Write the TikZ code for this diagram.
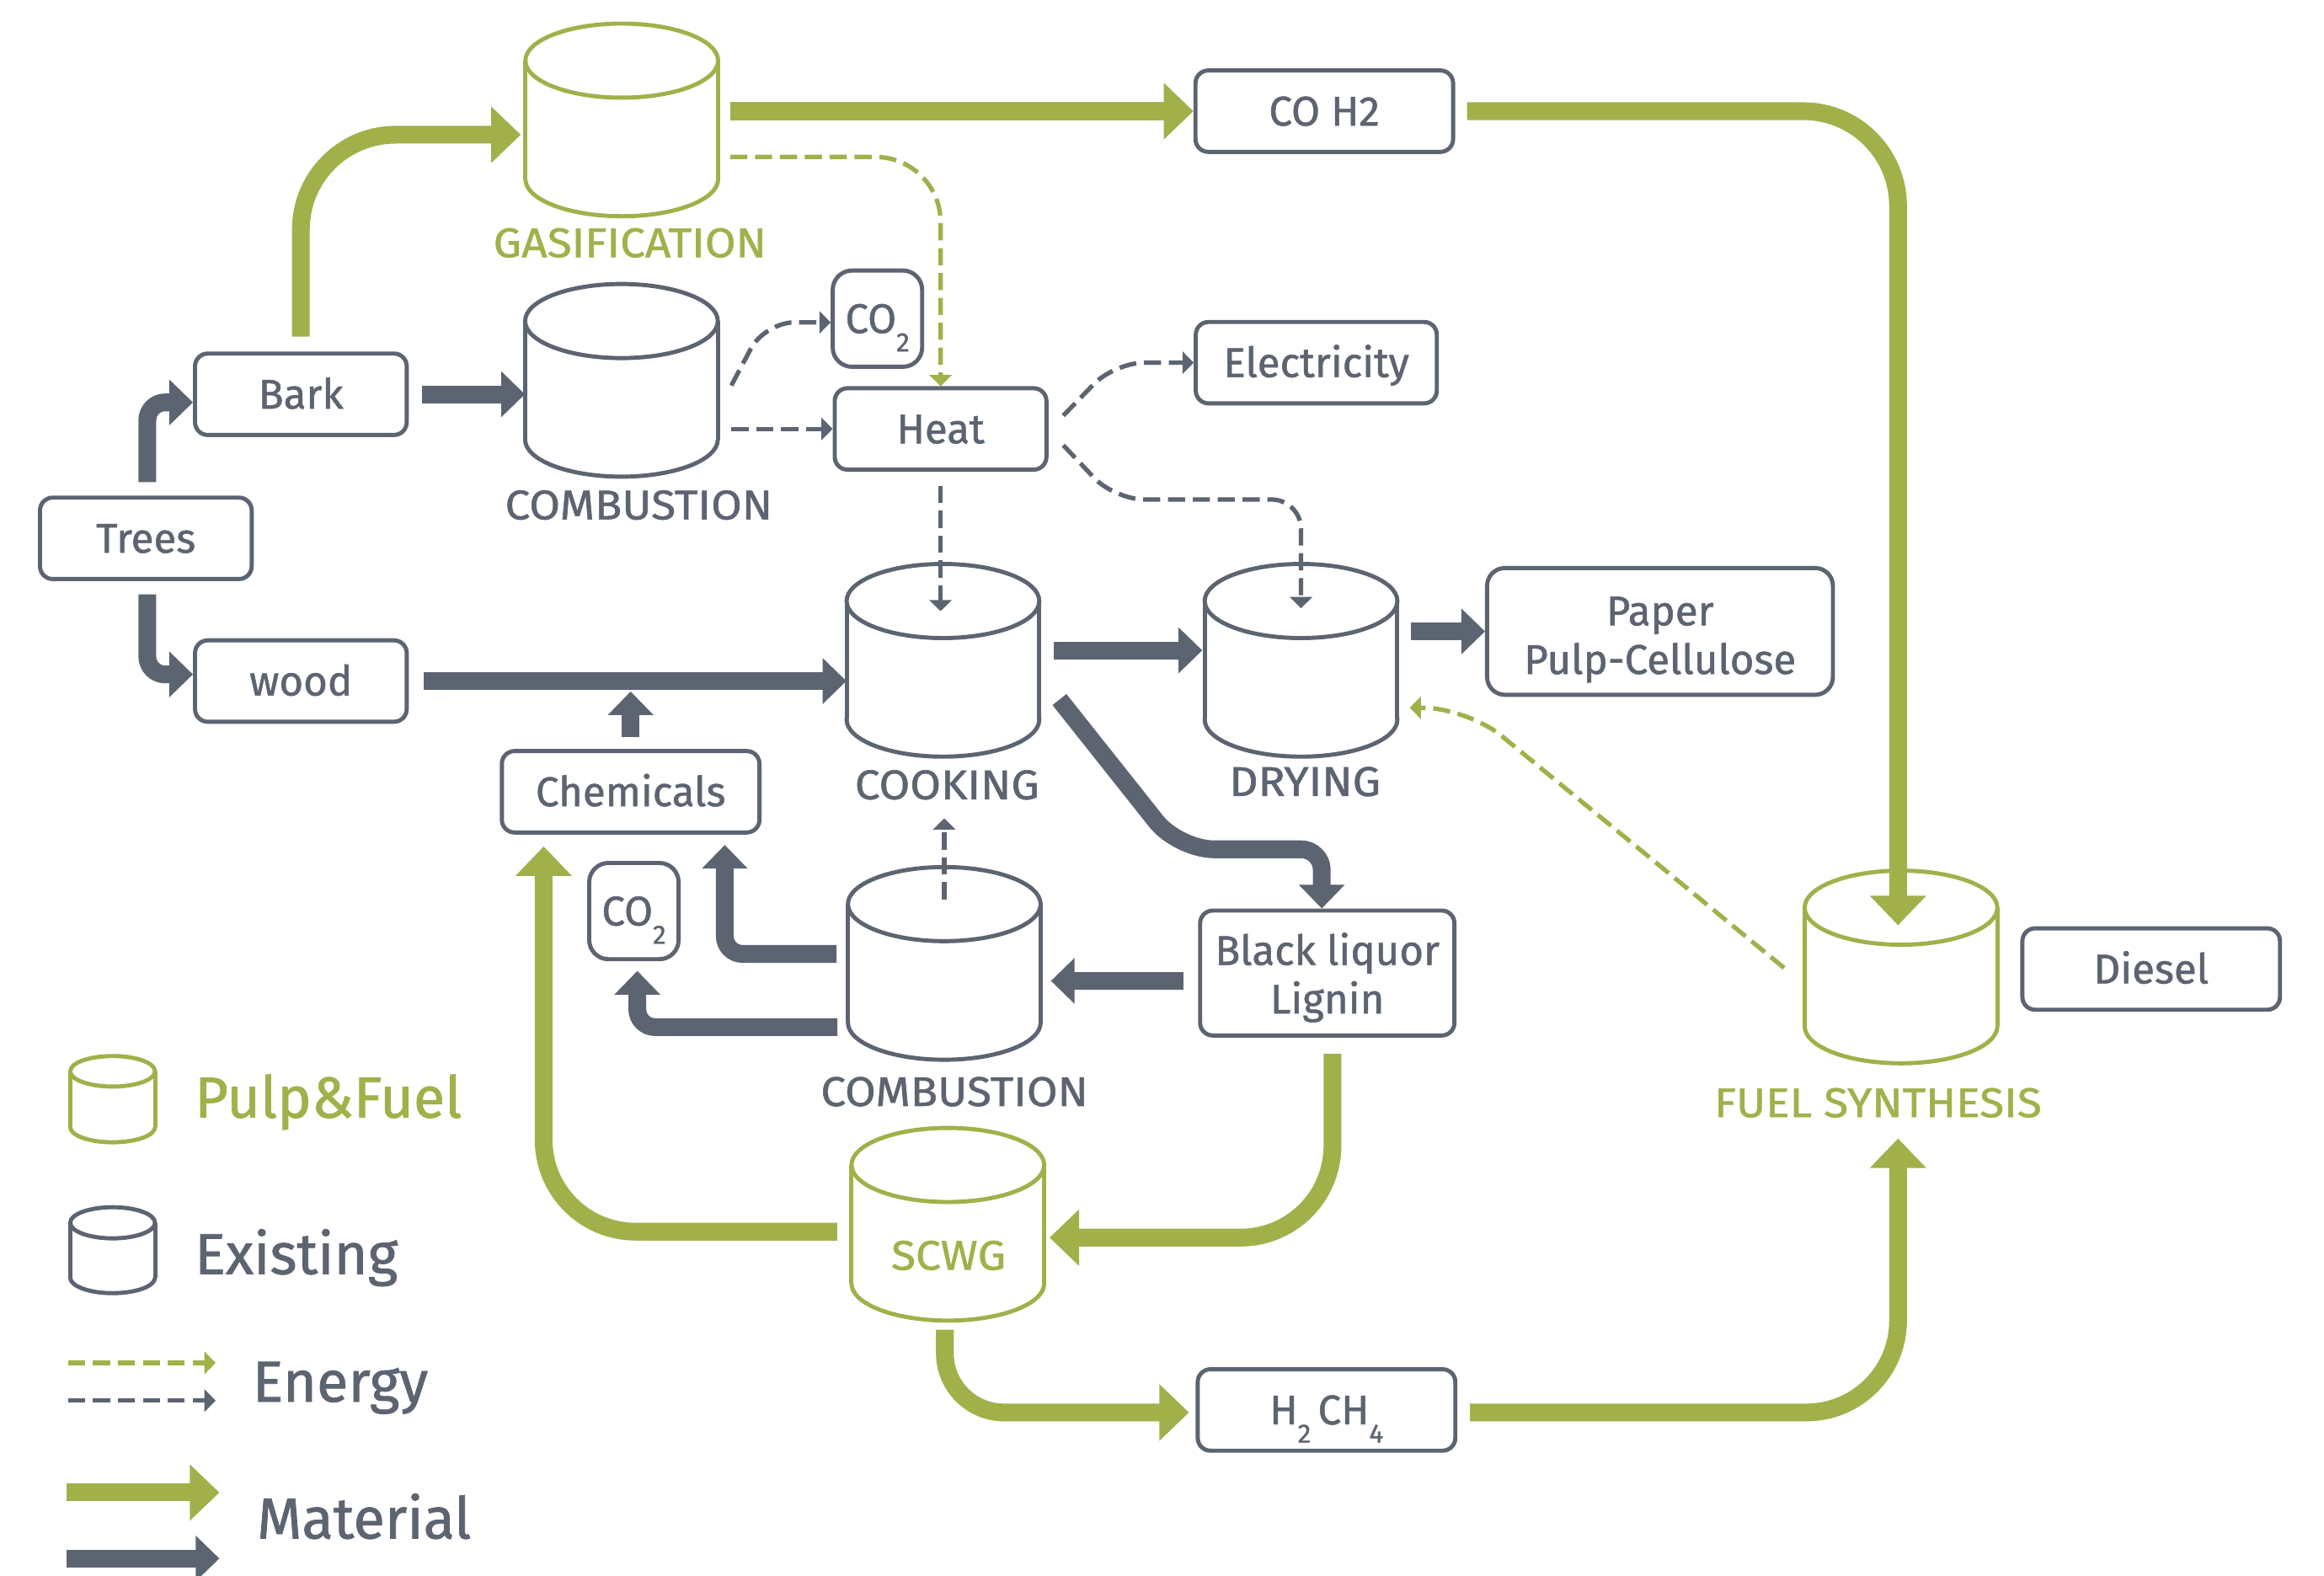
\documentclass[tikz,border=0pt]{standalone}
\usepackage{fontspec}
\setmainfont{Fira Sans}[FakeBold=1.1]
\newfontfamily\labfont{Fira Sans}[FakeStretch=1.08, FakeBold=1.1]
\usetikzlibrary{arrows.meta,calc}
\definecolor{cgray}{RGB}{93,100,113}
\definecolor{cgreen}{RGB}{162,176,74}
\newcommand\lowsub[1]{\raisebox{-6.2pt}[0pt][0pt]{\fontsize{9}{9}\selectfont #1}}
% cx, ytop, rx, ry, h, colour
\newcommand\drawcyl[6]{%
  \draw[#6, line width=1.4pt, fill=white] (#1,{#2+#5}) ellipse [x radius=#3, y radius=#4];
  \fill[white] ({#1-#3},#2) rectangle ({#1+#3},{#2+#5});
  \draw[#6, line width=1.4pt] ({#1-#3},#2) -- ({#1-#3},{#2+#5}) ({#1+#3},#2) -- ({#1+#3},{#2+#5});
  \draw[#6, line width=1.4pt, fill=white] (#1,#2) ellipse [x radius=#3, y radius=#4];
}
\begin{document}
\begin{tikzpicture}[x=0.017596cm, y=-0.017596cm,
  basebox/.style={draw=cgray, line width=1.4pt, rounded corners=4.3pt, fill=white, text=cgray,
    font=\fontsize{14}{16.4}\selectfont, inner sep=0pt, minimum height=27.5pt, align=center},
  box/.style={basebox, text height=9.7pt, text depth=0pt},
  twobox/.style={basebox, text depth=0pt},
  sbox/.style={box, minimum width=71.5pt},
  lbox/.style={box, minimum width=87pt},
  cobox/.style={box, minimum width=30.2pt, minimum height=32.5pt, rounded corners=6.5pt},
  cylnode/.style={inner sep=0pt, minimum width=64.8pt, minimum height=64.8pt},
  lab/.style={font=\labfont\fontsize{14}{16}\selectfont, inner sep=0pt, text height=9.7pt, text depth=0pt},
  leg/.style={font=\fontsize{19.5}{22}\selectfont, inner sep=0pt, text=cgray},
  gmat/.style={draw=cgreen, line width=6pt, -{Triangle[length=10pt 0 0,width=18.5pt 0 0]}},
  ymat/.style={draw=cgray, line width=6pt, -{Triangle[length=8pt 0 0,width=15pt 0 0]}},
  gen/.style={draw=cgreen, line width=1.5pt, dash pattern=on 5.8pt off 2.6pt, -{Triangle[length=3.8pt 0 0,width=7.5pt 0 0]}},
  yen/.style={draw=cgray, line width=1.5pt, dash pattern=on 5.8pt off 2.6pt, -{Triangle[length=3.8pt 0 0,width=7.5pt 0 0]}}
]
\fill[white] (0,0) rectangle (1568,1063);
\useasboundingbox (0,0) rectangle (1568,1063);

% ---- cylinders ----
\drawcyl{419.5}{40.9}{65}{25}{80}{cgreen}
\drawcyl{419.3}{216.6}{65}{25}{80}{cgray}
\drawcyl{636.2}{405.5}{65}{25}{80}{cgray}
\drawcyl{877.8}{405.5}{65}{25}{80}{cgray}
\drawcyl{637.1}{610}{65}{25}{80}{cgray}
\drawcyl{639.5}{786}{65}{25}{80}{cgreen}
\drawcyl{1282.6}{612.4}{65}{25}{80}{cgreen}
\node[cylnode] (gas) at (419.5,80.9) {};
\node[cylnode] (combT) at (419.3,256.6) {};
\node[cylnode] (cook) at (636.2,445.5) {};
\node[cylnode] (dry) at (877.8,445.5) {};
\node[cylnode] (combB) at (637.1,650) {};
\node[cylnode] (scwg) at (639.5,826) {};
\node[cylnode] (fuel) at (1282.6,652.4) {};

% ---- cylinder labels ----
\node[lab, text=cgreen] (gasl) at (425,163.8) {GASIFICATION};
\node[lab, text=cgray] (combTl) at (431,340.7) {COMBUSTION};
\node[lab, text=cgray] (cookl) at (639,529.5) {COOKING};
\node[lab, text=cgray] (dryl) at (880.5,527.3) {DRYING};
\node[lab, text=cgray] (combBl) at (644,736.5) {COMBUSTION};
\node[lab, text=cgreen] (scwgl) at (640,847) {SCWG};
\node[lab, text=cgreen] (fuell) at (1267,744) {FUEL SYNTHESIS};

% ---- boxes ----
\node[sbox] (trees) at (98.4,363.2) {Trees};
\node[sbox] (bark) at (203,266) {Bark};
\node[sbox] (wood) at (203,459.5) {wood};
\node[lbox] (chem) at (425.5,534.2) {Chemicals};
\node[cobox] (co2a) at (592,215) {CO\lowsub{2}};
\node[sbox] (heat) at (634.6,289.4) {Heat};
\node[box, minimum width=81.4pt] (elec) at (888.1,244.7) {Electricity};
\node[lbox] (coh2) at (893.5,75) {CO H2};
\node[twobox, minimum width=116.8pt, minimum height=42.8pt, rounded corners=6pt] (paper) at (1120,426) {\rule{0pt}{12.3pt}Paper\\Pulp-Cellulose};
\node[twobox, minimum width=85.9pt, minimum height=42.2pt] (bl) at (895.5,656.5) {Black liquor\\Lignin};
\node[cobox] (co2b) at (427.7,614.7) {CO\lowsub{2}};
\node[lbox] (diesel) at (1451.4,653.8) {Diesel};
\node[lbox] (h2) at (895,951.3) {H\lowsub{2}\,CH\lowsub{4}};

% ---- material flows ----
\draw[ymat, rounded corners=6pt] ($(trees.north)+(1,-9)$) |- ($(bark.west)+(0,5.5)$);
\draw[ymat, rounded corners=6pt] ($(trees.south)+(1,9)$) |- ($(wood.west)+(0,-4.5)$);
\draw[gmat, rounded corners=32pt] ($(bark.north)+(0,-10)$) |- ($(gas.west)+(-3,10)$);
\draw[ymat, shorten <=4.5pt] (bark.east) -- (combT.west |- bark.east);
\draw[gmat, shorten <=4pt] (gas.east |- coh2.west) -- (coh2.west);
\draw[gmat, rounded corners=32pt] ($(coh2.east)+(8,0)$) -| ($(fuel.north)+(-2,37)$);
\draw[ymat, shorten <=5pt] (wood.east) -- (cook.west |- wood.east);
\draw[ymat] ($(chem.north)+(0,-8)$) -- ($(chem.north |- wood.east)+(0,7)$);
\draw[ymat] ($(cook.east)+(9.5,-6.7)$) -- ($(dry.west)+(-1.5,-6.7)$);
\draw[ymat, shorten <=4.5pt] (dry.east |- paper.west) -- (paper.west);
\draw[ymat, rounded corners=12pt] ($(cook.east)+(13.5,26.5)$) -- (795,573) [rounded corners=7pt] -- (891.8,573) -- ($(bl.north)+(-3.7,0)$);
\draw[ymat] ($(bl.west)+(-10,5.3)$) -- ($(combB.east)+(6.8,11.8)$);
\draw[ymat, rounded corners=6pt] ($(combB.west)+(-7.6,-6.4)$) -| ($(chem.south)+(63.5,7)$);
\draw[ymat, rounded corners=6pt] ($(combB.west)+(-7,43)$) -| ($(co2b.south)+(2.3,6.5)$);
\draw[gmat, rounded corners=31pt] ($(bl.south)+(3.5,11)$) |- ($(scwg.east)+(3.5,9)$);
\draw[gmat, rounded corners=31pt] ($(scwg.west)+(-9.5,5)$) -| ($(chem.south)+(-58.7,8)$);
\draw[gmat, rounded corners=20pt] ($(scwg.south)+(-2,6)$) |- ($(h2.west)+(-4.5,1.7)$);
\draw[gmat, rounded corners=31pt] ($(h2.east)+(8.5,1.7)$) -| ($(fuel.south)+(-2,50.6)$);

% ---- energy flows ----
\draw[gen, rounded corners=22pt] ($(gas.east)+(8,25)$) -| (heat.north);
\draw[yen, rounded corners=10pt] ($(combT.east)+(9,3.5)$) -- (516,217.5) -- ($(co2a.west)+(0,2.5)$);
\draw[yen, shorten <=4.5pt] (combT.east |- heat.west) -- (heat.west);
\draw[yen, rounded corners=10pt] ($(heat.east)+(10,-9)$) -- (752,244.7) -- (elec.west);
\draw[yen, rounded corners=10pt] ($(heat.east)+(10,11)$) -- (752,337) -- (877.8,337) -- ($(dry.north)+(0,30)$);
\draw[yen] ($(heat.south)+(0,9.5)$) -- ($(heat.south |- cook.north)+(0,32)$);
\draw[yen] ($(combB.north)+(0,22)$) -- ($(combB.north |- cook.south)+(0,41.5)$);
\draw[gen, rounded corners=15pt] ($(fuel.west)+(-13.8,0.6)$) -- (990,477.5) -- ($(dry.east)+(8.2,32)$);

% ---- legend ----
\drawcyl{76}{722.8}{28.6}{10.3}{37.6}{cgreen}
\drawcyl{76}{825}{28.6}{10.5}{37}{cgray}
\node[leg, text=cgreen, anchor=base west] (lpf) at (131,754) {Pulp\&Fuel};
\node[leg, anchor=base west] (lex) at (131,859.6) {Existing};
\node[leg, anchor=base west] (len) at (170,945.7) {Energy};
\node[leg, anchor=base west] (lma) at (173,1038) {Material};
\coordinate (e1a) at (46,919.5); \coordinate (e1b) at (145.5,919.5);
\coordinate (e2a) at (46,945);   \coordinate (e2b) at (145.5,945);
\coordinate (m1a) at (45,1007);  \coordinate (m1b) at (148,1007);
\coordinate (m2a) at (45,1051.5);\coordinate (m2b) at (148,1051.5);
\draw[gen] (e1a) -- (e1b);
\draw[yen] (e2a) -- (e2b);
\draw[gmat] (m1a) -- (m1b);
\draw[ymat] (m2a) -- (m2b);
\end{tikzpicture}
\end{document}
